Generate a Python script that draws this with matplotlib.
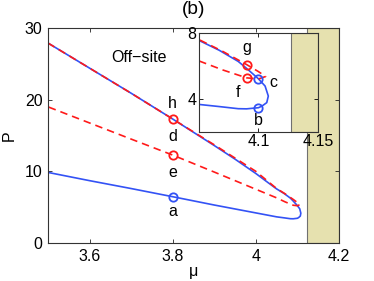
import numpy as np
import matplotlib
matplotlib.use("Agg")
import matplotlib.pyplot as plt

plt.rcParams['font.family'] = ['Liberation Sans', 'DejaVu Sans']
plt.rcParams['font.size'] = 11.5
plt.rcParams['xtick.direction'] = 'in'
plt.rcParams['ytick.direction'] = 'in'

# stable branch (blue, solid): upper branch then lower branch through the fold
mu_blue = [3.50, 3.60, 3.70, 3.80, 3.90, 3.95, 4.00, 4.03, 4.05, 4.067, 4.083, 4.09, 4.10,
           4.1056, 4.1083, 4.107, 4.103, 4.10, 4.09, 4.083, 4.067, 4.05, 4.00, 3.90, 3.80,
           3.70, 3.60, 3.50]
P_blue = [27.9, 24.4, 20.9, 17.3, 13.6, 11.7, 9.7, 8.4, 7.55, 6.95, 6.27, 5.85, 5.21,
          4.77, 4.16, 3.76, 3.55, 3.45, 3.38, 3.39, 3.52, 3.65, 4.2, 5.3, 6.46,
          7.6, 8.7, 9.85]

# unstable branch (red, dashed)
mu_red = [3.50, 3.60, 3.70, 3.80, 3.90, 4.00, 4.05, 4.07, 4.09, 4.10, 4.106,
          4.10, 4.09, 4.07, 4.05, 4.00, 3.90, 3.80, 3.70, 3.60, 3.50]
P_red = [27.9, 24.4, 20.9, 17.3, 13.7, 10.0, 7.6, 6.88, 6.08, 5.65, 5.35,
         5.2, 5.27, 5.75, 6.3, 7.5, 9.9, 12.27, 14.5, 16.75, 19.0]

# marked points
main_pts = ['h', 'e', 'a']
main_mu = [3.8, 3.8, 3.8]
main_P = [17.3, 12.27, 6.46]
main_col = ['red', 'red', 'blue']
inset_pts = ['g', 'f', 'c', 'b']
inset_mu = [4.09, 4.09, 4.10, 4.10]
inset_P = [6.08, 5.27, 5.21, 3.45]
inset_col = ['red', 'red', 'blue', 'blue']

band_start_main = 4.123
band_start_inset = 4.127

BLUE = '#3352f5'
RED = '#ff1a1a'
BAND = '#e6e1af'
cmap = {'red': RED, 'blue': BLUE}

fig = plt.figure(figsize=(3.74, 2.81), dpi=100)
ax = fig.add_axes([0.1283, 0.1352, 0.778, 0.7652])

ax.axvspan(band_start_main, 4.2, facecolor=BAND, edgecolor='#707070', lw=0.8, zorder=0)
ax.plot(mu_blue, P_blue, color=BLUE, lw=1.2)
ax.plot(mu_red, P_red, color=RED, lw=1.2, dashes=(4.5, 3))
for n, m, p, c in zip(main_pts, main_mu, main_P, main_col):
    ax.plot(m, p, 'o', ms=6, mfc='none', mec=cmap[c], mew=1.3)

ax.text(3.8, 19.4, 'h', ha='center', va='center')
ax.text(3.8, 14.8, 'd', ha='center', va='center')
ax.text(3.8, 9.86, 'e', ha='center', va='center')
ax.text(3.8, 4.37, 'a', ha='center', va='center')
ax.text(3.718, 25.9, 'Off\u2212site', ha='center', va='center')

ax.set_xlim(3.5, 4.2)
ax.set_ylim(0, 30)
ax.set_xticks([3.6, 3.8, 4.0, 4.2])
ax.set_xticklabels(['3.6', '3.8', '4', '4.2'])
ax.set_yticks([0, 10, 20, 30])
ax.tick_params(top=True, right=True, length=3, width=0.6, colors='#222222',
               labelcolor='black', pad=4)
for s in ax.spines.values():
    s.set_linewidth(0.8)
    s.set_color('#333333')
ax.set_xlabel('\u03bc', labelpad=0)
ax.set_ylabel('P', labelpad=6)
ax.set_title('(b)', pad=10)

# inset
ins = fig.add_axes([0.532, 0.532, 0.318, 0.3505])
ins.axvspan(band_start_inset, 4.15, facecolor=BAND, edgecolor='#707070', lw=0.8, zorder=0)
ins.plot(mu_blue, P_blue, color=BLUE, lw=1.2)
ins.plot(mu_red, P_red, color=RED, lw=1.2, dashes=(4.5, 3))
for n, m, p, c in zip(inset_pts, inset_mu, inset_P, inset_col):
    ins.plot(m, p, 'o', ms=6, mfc='none', mec=cmap[c], mew=1.3)
ins.text(4.09, 7.09, 'g', ha='center', va='center')
ins.text(4.083, 4.4, 'f', ha='center', va='center')
ins.text(4.1125, 5.0, 'c', ha='center', va='center')
ins.text(4.10, 2.65, 'b', ha='center', va='center')
ins.set_xlim(4.05, 4.15)
ins.set_ylim(2, 8)
ins.set_xticks([4.1, 4.15])
ins.set_xticklabels(['4.1', '4.15'])
ins.set_yticks([4, 8])
ins.tick_params(top=True, right=True, length=3, width=0.6, pad=2)
for s in ins.spines.values():
    s.set_linewidth(0.8)
    s.set_color('#333333')

fig.savefig('out.png', dpi=100)
